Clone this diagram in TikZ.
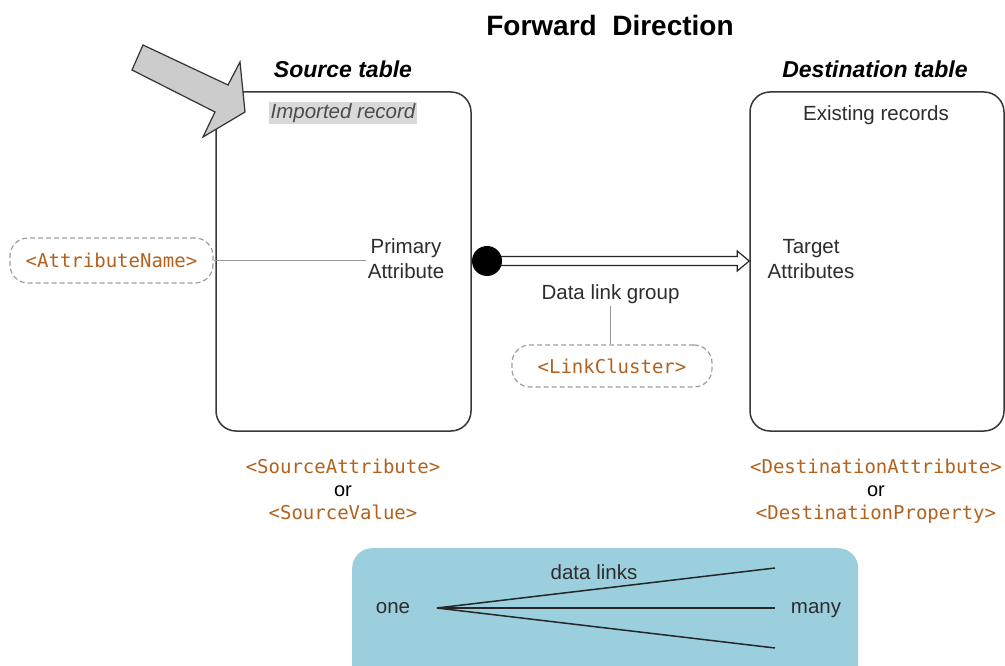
\documentclass[tikz,border=0pt]{standalone}
\usepackage{fontspec}
\setmainfont{Liberation Sans}
\newfontfamily\monof{DejaVu Sans Mono}
\usetikzlibrary{calc}
\definecolor{codebrown}{RGB}{178,98,30}
\definecolor{panelblue}{RGB}{155,207,221}
\definecolor{boxline}{RGB}{55,55,55}
\definecolor{arrowgray}{RGB}{204,204,204}
\definecolor{txtgray}{RGB}{45,45,45}
\newcommand{\codetxt}[1]{{\monof\fontsize{19}{23}\selectfont\color{codebrown}#1}}
\begin{document}
\begin{tikzpicture}[x=1pt,y=-1pt,
  tablebox/.style={draw=boxline, line width=1.5pt, rounded corners=20pt, minimum width=255pt, minimum height=339pt, fill=white},
  codetag/.style={draw=gray!75, dashed, dash pattern=on 5pt off 3pt, line width=1.2pt, rounded corners=18pt, inner sep=0pt},
  lbl/.style={font=\fontsize{20.5}{25}\selectfont, text=txtgray, align=center, inner sep=2pt},
  heading/.style={font=\bfseries\itshape\fontsize{23}{26}\selectfont, text=black, inner sep=1pt},
  fanline/.style={draw=black!85, line width=1.5pt},
  graylink/.style={draw=gray!80, line width=1.2pt}
]
\clip (0,0) rectangle (1005,666);
\fill[white] (0,0) rectangle (1005,666);

% title and headings
\node[font=\bfseries\fontsize{28}{30}\selectfont, inner sep=1pt] (title) at (610,25) {Forward\ \ Direction};
\node[heading] (srchead) at (343,69) {Source table};
\node[heading] (dsthead) at (875,69) {Destination table};

% tables
\node[tablebox] (src) at (343.5,261.5) {};
\node[tablebox, minimum width=254pt] (dst) at (877,261.5) {};

\node[lbl, font=\itshape\fontsize{20.5}{25}\selectfont, fill=black!15, inner sep=1.5pt, text=black!70] (imp) at (343,113) {Imported record};
\node[lbl] (exist) at (876,115) {Existing records};

\node[lbl] (prim) at (406,259) {Primary\\Attribute};
\node[lbl] (target) at (811,259.5) {Target\\Attributes};

% attribute name tag
\node[codetag, minimum width=203pt, minimum height=45pt] (attr) at (111.5,260.5) {\codetxt{<AttributeName>}};
\draw[graylink] (attr.east) -- (attr.east -| prim.west);

% link arrow
\node[circle, inner sep=0pt, minimum size=30pt] (dot) at (487,261) {};
\coordinate (tip) at (dst.west |- dot.center);
\draw[draw=black!85, line width=1.2pt, fill=white]
  ($(dot.center)+(0,-4.5)$) -- ($(tip)+(-12,-4.5)$) -- ($(tip)+(-12,-10)$) -- (tip)
  -- ($(tip)+(-12,10)$) -- ($(tip)+(-12,4.5)$) -- ($(dot.center)+(0,4.5)$);
\fill[black] (dot) circle (15pt);

\node[lbl] (dlg) at (610.5,294) {Data link group};
\node[codetag, minimum width=200pt, minimum height=42pt] (lc) at (612,366) {\codetxt{<LinkCluster>}};
\draw[graylink] (dlg.south) -- (dlg.south |- lc.north);

% big gray arrow
\draw[fill=arrowgray, draw=black!80, line width=1.2pt, line join=miter]
  (143,45) -- (228,85) -- (240,62) -- (245,112) -- (203,137) -- (215,112) -- (132,70) -- cycle;

% bottom labels
\node[lbl, font=\fontsize{20}{23}\selectfont, text=black] (srclbl) at (343,489)
  {\codetxt{<SourceAttribute>}\\or\\\codetxt{<SourceValue>}};
\node[lbl, font=\fontsize{20}{23}\selectfont, text=black] (dstlbl) at (876,491)
  {\codetxt{<DestinationAttribute>}\\or\\\codetxt{<DestinationProperty>}};

% legend panel
\node[fill=panelblue, rounded corners=20pt, minimum width=506pt, minimum height=140pt, anchor=north west, inner sep=0pt] (panel) at (352,548) {};
\node[lbl] (one) at (393,608) {one};
\node[lbl] (many) at (816,610) {many};
\node[lbl] (dl) at (594,572) {data links};
\coordinate (fan) at (437,608);
\coordinate (m1) at (775,568);
\coordinate (m2) at (775,608);
\coordinate (m3) at (775,648);
\draw[fanline] (fan) -- (m1);
\draw[fanline] (fan) -- (m2);
\draw[fanline] (fan) -- (m3);
\end{tikzpicture}
\end{document}
